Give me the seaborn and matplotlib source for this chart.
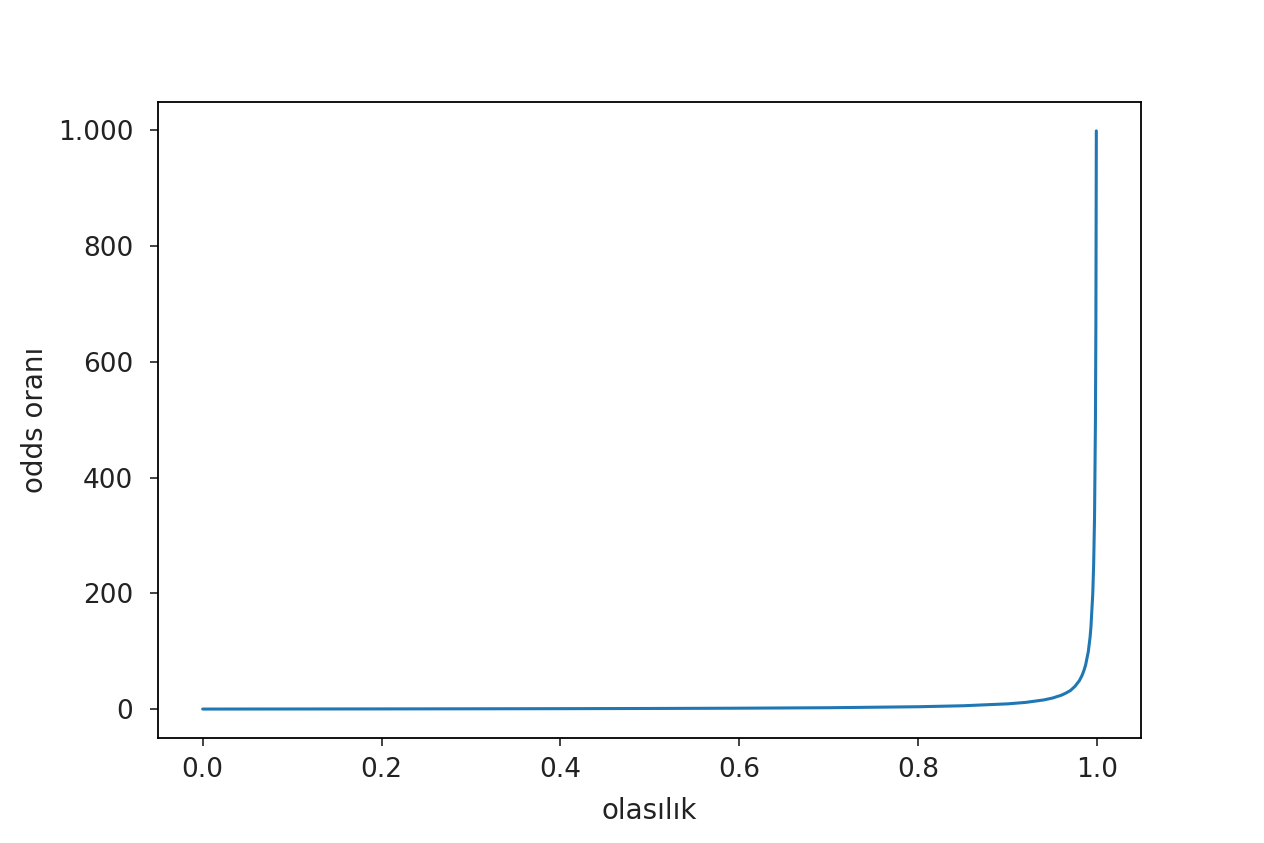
import matplotlib
matplotlib.use("Agg")
import matplotlib.pyplot as plt
import seaborn as sns
from matplotlib.ticker import FuncFormatter

# values
olasilik = [0.0, 0.1, 0.2, 0.3, 0.4, 0.5, 0.6, 0.7, 0.8, 0.85, 0.9,
            0.92, 0.94, 0.95, 0.96, 0.965, 0.97, 0.975, 0.98, 0.983, 0.985,
            0.987, 0.99, 0.992, 0.993, 0.995, 0.996, 0.997, 0.998, 0.9985, 0.999]
odds_orani = [0.0, 0.11, 0.25, 0.43, 0.67, 1.0, 1.5, 2.3, 4.0, 5.7, 9.0,
              11.5, 15.7, 19.0, 24.0, 27.6, 32.0, 39.0, 49.0, 58.0, 66.0,
              76.0, 99.0, 124.0, 142.0, 199.0, 249.0, 332.0, 499.0, 665.0, 999.0]

sns.set_style("ticks")
plt.rcParams['font.family'] = ['DejaVu Sans']

fig = plt.figure(figsize=(12.64, 8.43), dpi=100)
ax = fig.add_axes([0.125, 0.1246, 0.7777, 0.7544])

sns.lineplot(x=olasilik, y=odds_orani, ax=ax, color='#1f77b4', linewidth=2.2)

ax.set_xlabel('olasılık', fontsize=20, color='#222222', labelpad=10)
ax.set_ylabel('odds oranı', fontsize=20, color='#222222', labelpad=6)
ax.tick_params(labelsize=19, colors='#222222', length=5.8, width=1.2)
ax.tick_params(axis='x', pad=8)
ax.tick_params(axis='y', pad=12)
for s in ax.spines.values():
    s.set_visible(True)
    s.set_color('black')
    s.set_linewidth(1.3)

ax.yaxis.set_major_formatter(FuncFormatter(lambda v, p: f"{int(v):,}".replace(',', '.')))
ax.set_xticks([0.0, 0.2, 0.4, 0.6, 0.8, 1.0])
ax.set_yticks([0, 200, 400, 600, 800, 1000])

fig.savefig('out.png', dpi=100, facecolor='white')
